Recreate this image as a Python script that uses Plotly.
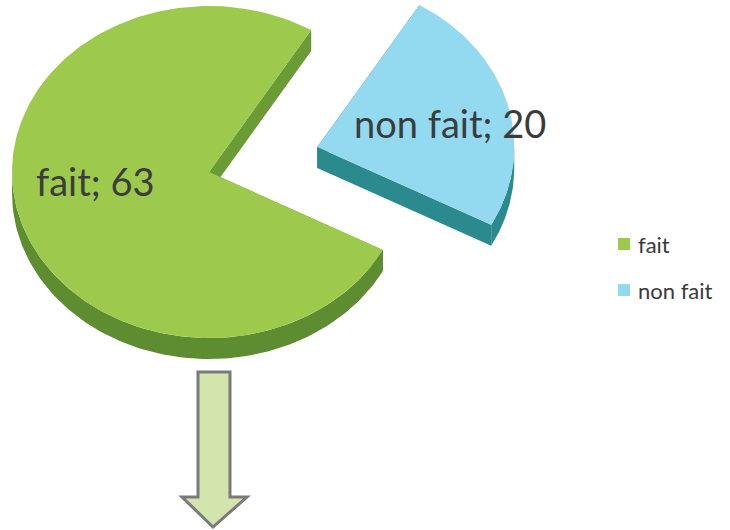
import numpy as np
import plotly.graph_objects as go

# Data
categories = ["fait", "non fait"]
values = [63, 20]
explode = [0.0, 0.57]

# Styling
top_colors = ["#9dc94c", "#93d9ef"]
side_colors = ["#5e8c30", "#2b8a8e"]
cut_colors = ["#6b9b35", "#2b8a8e"]
label_pos = [(95, 181), (450, 123)]

# Tilted-pie geometry (pixel space, y downwards)
CX, CY = 209, 172
RX, RY = 197, 166
DEPTH = 21
START = 118.0  # degrees, clockwise from 12 o'clock


def pt(cx, cy, th, r=1.0):
    t = np.radians(th)
    return cx + r * RX * np.sin(t), cy - r * RY * np.cos(t)


total = sum(values)
slices = []
a = START
for v, e in zip(values, explode):
    span = 360.0 * v / total
    b = a + span
    mid = (a + b) / 2
    ox, oy = pt(0, 0, mid, e)
    slices.append((a, b, CX + ox, CY + oy))
    a = b

fig = go.Figure()


def poly(xs, ys, color):
    fig.add_trace(go.Scatter(x=list(xs) + [xs[0]], y=list(ys) + [ys[0]], mode="lines",
                             fill="toself", fillcolor=color, line=dict(width=0, color=color),
                             hoverinfo="skip", showlegend=False))


for i, (a, b, cx, cy) in enumerate(slices):
    # radial cut faces
    for th in (a, b):
        px, py = pt(cx, cy, th)
        poly([cx, px, px, cx], [cy, py, py + DEPTH, cy + DEPTH], cut_colors[i])
    # outer wall, visible part only (front half of the ellipse)
    for k in range(-1, 3):
        lo = max(a, 90 + 360 * k)
        hi = min(b, 270 + 360 * k)
        if hi > lo:
            th = np.linspace(lo, hi, 120)
            xs, ys = pt(cx, cy, th)
            poly(np.concatenate([xs, xs[::-1]]), np.concatenate([ys, (ys + DEPTH)[::-1]]),
                 side_colors[i])
    # top face
    th = np.linspace(a, b, 300)
    xs, ys = pt(cx, cy, th)
    poly(np.concatenate([[cx], xs]), np.concatenate([[cy], ys]), top_colors[i])

# data labels
for (lx, ly), c, v in zip(label_pos, categories, values):
    fig.add_annotation(x=lx, y=ly, text=f"{c}; {v}", showarrow=False,
                       font=dict(family="Lato", size=38, color="#3c3c3c"),
                       xanchor="center", yanchor="middle")

# legend
leg_y = [244, 290]
fig.add_trace(go.Scatter(x=[624, 624], y=leg_y, mode="markers",
                         marker=dict(symbol="square", size=12, color=top_colors, line=dict(width=0)),
                         hoverinfo="skip", showlegend=False))
for c, y in zip(categories, leg_y):
    fig.add_annotation(x=636, y=y, text=c, showarrow=False, xanchor="left", yanchor="middle",
                       font=dict(family="Lato", size=22, color="#3a3a3a"))

# downward arrow below the pie
arrow = "M 198 372 L 230 372 L 230 497 L 247 497 L 213 527 L 182 497 L 198 497 Z"
fig.add_shape(type="path", path=arrow, xref="x", yref="y",
              fillcolor="#d3e4ad", line=dict(color="#7a7a7a", width=3))

fig.update_layout(
    width=730, height=530, margin=dict(l=0, r=0, t=0, b=0),
    paper_bgcolor="white", plot_bgcolor="white",
    xaxis=dict(range=[0, 730], visible=False, fixedrange=True),
    yaxis=dict(range=[530, 0], visible=False, fixedrange=True),
)
fig.write_html("out.html")
